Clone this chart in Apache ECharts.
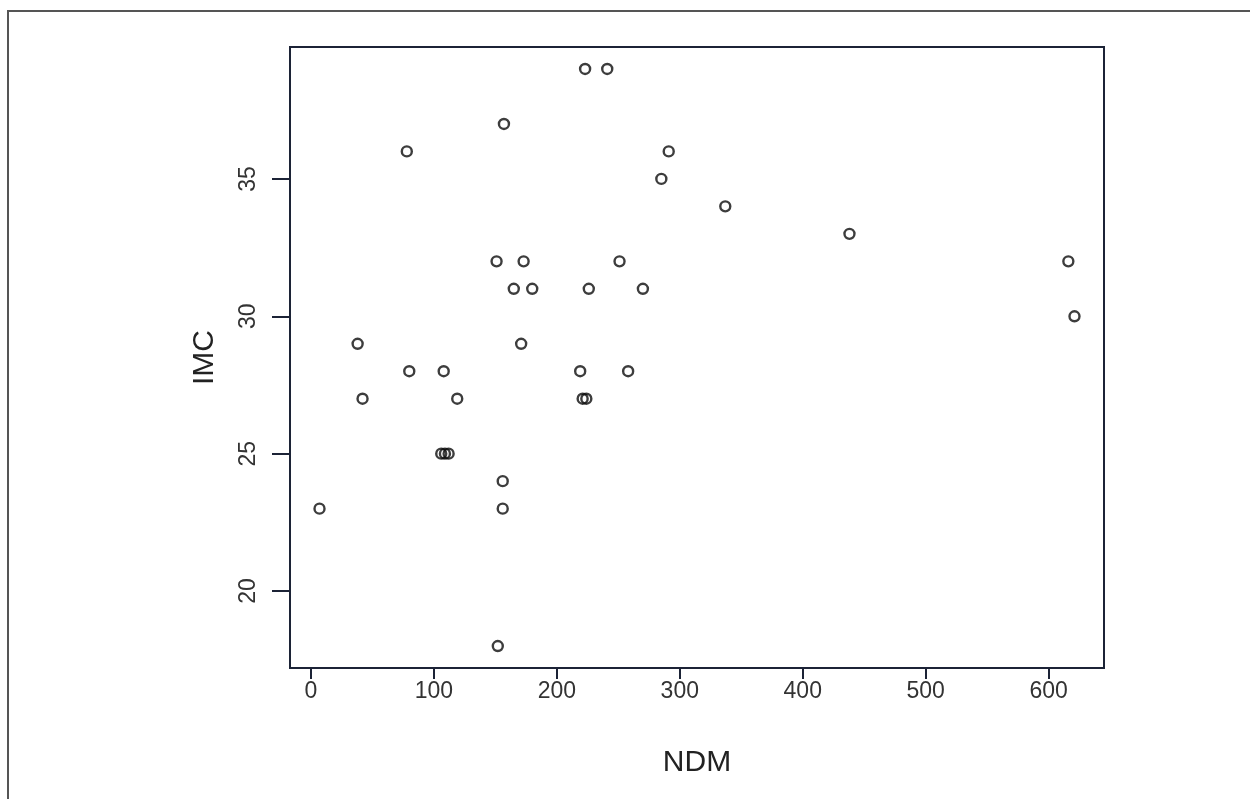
<!DOCTYPE html>
<html>
<head>
<meta charset="utf-8">
<script src="https://cdn.jsdelivr.net/npm/echarts@6/dist/echarts.min.js"></script>
<style>
  html, body { margin: 0; padding: 0; background: #fff; }
  #chart { width: 1250px; height: 799px; }
</style>
</head>
<body>
<div id="chart"></div>
<script>
// NDM values (x) and IMC values (y)
var ndm = [7, 38, 42, 78, 80, 106, 109, 112, 108, 119, 151, 152, 156, 156, 157,
           165, 171, 173, 180, 219, 221, 224, 226, 223, 241, 251, 258, 270, 285,
           291, 337, 438, 616, 621];
var imc = [23, 29, 27, 36, 28, 25, 25, 25, 28, 27, 32, 18, 24, 23, 37,
           31, 29, 32, 31, 28, 27, 27, 31, 39, 39, 32, 28, 31, 35,
           36, 34, 33, 32, 30];
var xTicks = [0, 100, 200, 300, 400, 500, 600];
var yTicks = [20, 25, 30, 35];

var points = ndm.map(function (v, i) { return [v, imc[i]]; });

var chart = echarts.init(document.getElementById('chart'));
var font = 'Liberation Sans, Arial, sans-serif';

chart.setOption({
    backgroundColor: '#fff',
    animation: false,
    graphic: [{
        type: 'rect',
        shape: { x: 8, y: 11, width: 1260, height: 820 },
        style: { fill: 'none', stroke: '#555', lineWidth: 2 },
        silent: true
    }],
    grid: {
        left: 290, right: 146, top: 47, bottom: 131,
        show: true, borderColor: '#1c2336', borderWidth: 2, backgroundColor: 'transparent'
    },
    xAxis: {
        type: 'value',
        min: -17, max: 645,
        name: 'NDM',
        nameLocation: 'middle',
        nameGap: 80,
        nameTextStyle: { fontSize: 30, color: '#222', fontFamily: font },
        splitLine: { show: false },
        axisLine: { show: false, onZero: false },
        axisTick: { show: true, length: 11, customValues: xTicks, lineStyle: { color: '#1c2336', width: 2 } },
        axisLabel: { customValues: xTicks, fontSize: 23, color: '#333', fontFamily: font, margin: 12 }
    },
    yAxis: {
        type: 'value',
        min: 17.2, max: 39.8,
        name: 'IMC',
        nameLocation: 'middle',
        nameGap: 70,
        nameRotate: 90,
        nameTextStyle: { fontSize: 30, color: '#222', fontFamily: font },
        splitLine: { show: false },
        axisLine: { show: false, onZero: false },
        axisTick: { show: true, length: 18, customValues: yTicks, lineStyle: { color: '#1c2336', width: 2 } },
        axisLabel: { customValues: yTicks, rotate: 90, fontSize: 23, color: '#333', fontFamily: font, margin: 30 }
    },
    series: [{
        type: 'scatter',
        data: points,
        symbol: 'circle',
        symbolSize: 10,
        itemStyle: { color: 'transparent', borderColor: '#0d0d0d', borderWidth: 2.4 }
    }]
});
</script>
</body>
</html>
